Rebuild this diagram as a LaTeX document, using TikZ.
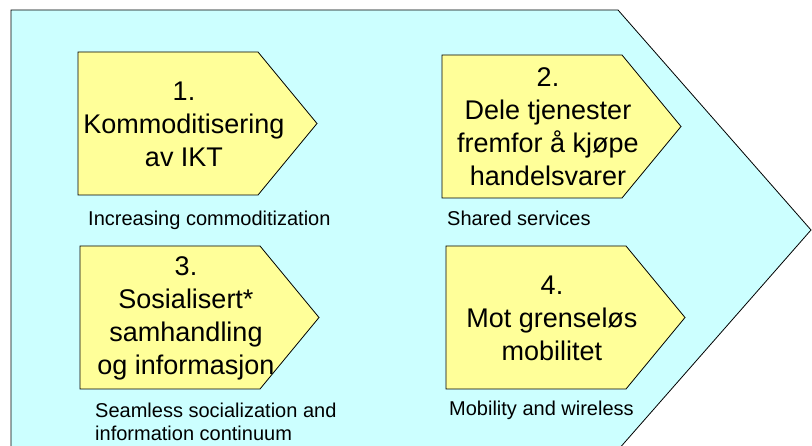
\documentclass[tikz,border=0pt]{standalone}
\usepackage{fontspec}
\setmainfont{Liberation Sans}
\definecolor{backcyan}{RGB}{204,255,255}
\definecolor{chevyellow}{RGB}{255,255,153}
\tikzset{
  chev/.style={draw=black,fill=chevyellow,line width=0.8pt},
  chevtext/.style={font=\fontsize{27}{33}\selectfont,align=center},
  note/.style={font=\fontsize{20}{24}\selectfont,align=left,anchor=base west,inner sep=0pt}
}
% chevron with its top left corner at (#1,#2), text node named #3
\newcommand{\chevron}[4]{%
  \draw[chev] (#1,#2) -- ++(180,0) -- ++(59,71.5) -- ++(-59,71.5) -- ++(-180,0) -- cycle;
  \node[chevtext] (#3) at (#1+106,#2+72) {#4};}
\begin{document}
\begin{tikzpicture}[x=1pt,y=-1pt]
    \useasboundingbox (0,0) rectangle (812,446);
    \draw[fill=backcyan,line width=0.8pt] (11,10) -- (618,10) -- (811,230) -- (618,450) -- (11,450) -- cycle;
    \chevron{78}{52}{komm}{1.\\Kommoditisering\\av IKT}
    \chevron{442}{55}{dele}{2.\\Dele tjenester\\fremfor å kjøpe\\handelsvarer}
    \chevron{80}{246}{sosi}{3.\\Sosialisert*\\samhandling\\og informasjon}
    \chevron{446}{246}{mobi}{4.\\Mot grenseløs\\mobilitet}
    \node[note] (kommnote) at (88,226) {Increasing commoditization};
    \node[note] (delenote) at (447,226) {Shared services};
    % base of a two-line node is its last line
    \node[note] (sosinote) at (95,441) {Seamless socialization and\\information continuum};
    \node[note] (mobinote) at (449,416) {Mobility and wireless};
\end{tikzpicture}
\end{document}
